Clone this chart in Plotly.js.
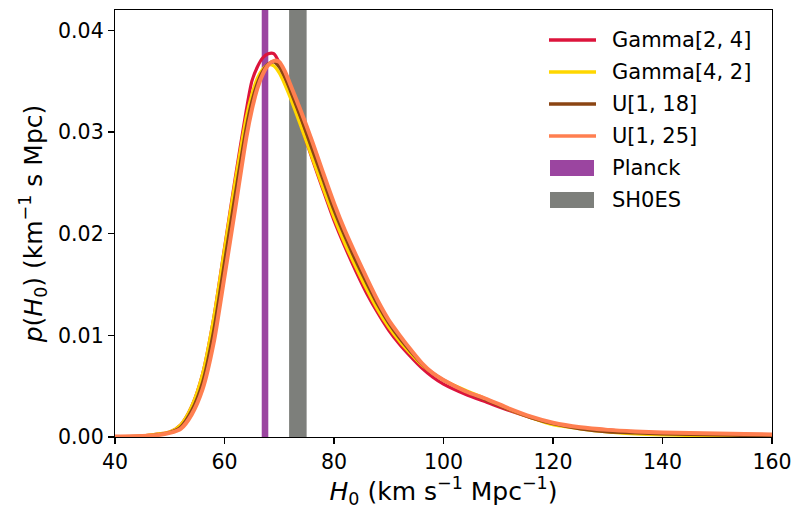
<!DOCTYPE html>
<html>
<head>
<meta charset="utf-8">
<script src="https://cdn.plot.ly/plotly-3.0.1.min.js"></script>
<style>html,body{margin:0;padding:0;background:#fff;}#chart{width:796px;height:509px;}</style>
</head>
<body>
<div id="chart"></div>
<script>
// H0 grid (km s^-1 Mpc^-1)
const h0 = [40,45,48,50,52,54,56,58,60,62,64,65,66,67,68,69,70,71,72,74,76,78,80,82,84,86,88,90,92,94,96,98,100,104,108,112,116,120,125,130,135,140,145,150,155,160];

const gamma24 = [0.00005,0.0001,0.0003,0.0005,0.0012,0.0030,0.0062,0.0116,0.0186,0.0256,0.0322,0.0350,0.0364,0.0373,0.0377,0.0377,0.0368,0.0354,0.0338,0.0306,0.0274,0.0243,0.0213,0.0187,0.0163,0.0141,0.0122,0.0105,0.0091,0.0079,0.0068,0.0059,0.0052,0.0042,0.0034,0.0026,0.0019,0.0013,0.0009,0.0007,0.0005,0.0004,0.00035,0.0003,0.00025,0.0002];

const gamma42 = [0.00005,0.0001,0.0003,0.0005,0.0012,0.0030,0.0062,0.0116,0.0185,0.0253,0.0315,0.0337,0.0353,0.0362,0.0366,0.0365,0.0358,0.0347,0.0334,0.0305,0.0275,0.0245,0.0216,0.0190,0.0167,0.0145,0.0125,0.0108,0.0094,0.0082,0.0071,0.0063,0.0056,0.0046,0.0037,0.0027,0.0019,0.0012,0.0008,0.0005,0.0003,0.0002,0.00015,0.0001,0.0001,0.00005];

const u118 = [0.00005,0.0001,0.00025,0.00045,0.0010,0.0026,0.0054,0.0104,0.0172,0.0240,0.0305,0.0330,0.0348,0.0360,0.0367,0.0369,0.0364,0.0354,0.0341,0.0313,0.0283,0.0253,0.0223,0.0197,0.0173,0.0151,0.0130,0.0112,0.0097,0.0084,0.0072,0.0063,0.0056,0.0045,0.0036,0.0027,0.0019,0.0013,0.0008,0.0005,0.0004,0.0003,0.00025,0.0002,0.00015,0.0001];

const u125 = [0.00005,0.0001,0.0002,0.0004,0.0008,0.0022,0.0047,0.0092,0.0158,0.0226,0.0295,0.0322,0.0343,0.0357,0.0366,0.0370,0.0369,0.0360,0.0347,0.0320,0.0291,0.0260,0.0230,0.0203,0.0179,0.0156,0.0134,0.0115,0.0100,0.0086,0.0073,0.0063,0.0056,0.0045,0.0037,0.0028,0.0020,0.0014,0.00095,0.0007,0.00055,0.00045,0.0004,0.00035,0.0003,0.00025];

const seriesNames = ["Gamma[2, 4]","Gamma[4, 2]","U[1, 18]","U[1, 25]"];
const seriesColors = ["#DC143C","#FFD700","#8B4513","#FF7F50"];
const seriesWidths = [3.2,3.2,3.2,4];

// Measurement bands [low, high]
const planckBand = [66.8, 68.0];
const shoesBand = [71.8, 75.0];
const bandNames = ["Planck","SH0ES"];
const bandColors = ["#9B45A0","#7D7F7B"];
const yTop = 0.042;

const yTicks = [0, 0.01, 0.02, 0.03, 0.04];
const yTickText = ["0.00","0.01","0.02","0.03","0.04"];
const xTicks = [40, 60, 80, 100, 120, 140, 160];

const FONT = "DejaVu Sans, sans-serif";
const TICK_FS = 20.5;
const LEG_FS = 21;
const TITLE_FS = 25;

// plot-area geometry (px) used to place a matplotlib-style legend
const W = 796, H = 509;
const M = {l: 115, r: 24, t: 10, b: 72};
const PW = W - M.l - M.r, PH = H - M.t - M.b;
const px2x = p => (p - M.l) / PW;
const px2y = p => (H - M.b - p) / PH;

const traces = [];
[planckBand, shoesBand].forEach((b, i) => {
  traces.push({
    x: [b[0], b[1], b[1], b[0], b[0]],
    y: [0, 0, yTop, yTop, 0],
    type: "scatter", mode: "lines", fill: "toself",
    fillcolor: bandColors[i], line: {width: 0, color: bandColors[i]},
    name: bandNames[i], showlegend: false, hoverinfo: "skip"
  });
});
[gamma24, gamma42, u118, u125].forEach((ys, i) => {
  traces.push({
    x: h0, y: ys, type: "scatter", mode: "lines",
    line: {color: seriesColors[i], width: seriesWidths[i], shape: "spline", smoothing: 0.7},
    name: seriesNames[i], showlegend: false
  });
});

// legend (drawn like matplotlib: long handles, patch rectangles)
const shapes = [], annotations = [];
const legNames = seriesNames.concat(bandNames);
const rowTop = 40, rowStep = 32;
legNames.forEach((nm, i) => {
  const yc = rowTop + i * rowStep;
  if (i < seriesNames.length) {
    shapes.push({type: "line", xref: "paper", yref: "paper",
      x0: px2x(549), x1: px2x(596), y0: px2y(yc), y1: px2y(yc),
      line: {color: seriesColors[i], width: 3.3}});
  } else {
    const j = i - seriesNames.length;
    shapes.push({type: "rect", xref: "paper", yref: "paper",
      x0: px2x(550), x1: px2x(594), y0: px2y(yc - 8), y1: px2y(yc + 8),
      fillcolor: bandColors[j], line: {width: 0}});
  }
  annotations.push({text: nm, xref: "paper", yref: "paper",
    x: px2x(610), y: px2y(yc), xanchor: "left", yanchor: "middle",
    showarrow: false, font: {family: FONT, size: LEG_FS, color: "#000"}});
});

const layout = {
  width: W, height: H,
  margin: M,
  paper_bgcolor: "#fff", plot_bgcolor: "#fff",
  font: {family: FONT, size: TICK_FS, color: "#000"},
  showlegend: false,
  shapes: shapes, annotations: annotations,
  xaxis: {
    range: [40, 160], tickvals: xTicks, ticktext: xTicks.map(String),
    showgrid: false, zeroline: false,
    showline: true, mirror: true, linecolor: "#000", linewidth: 1.2,
    ticks: "outside", ticklen: 6, tickwidth: 1.2, tickcolor: "#000",
    tickfont: {family: FONT, size: TICK_FS, color: "#000"},
    title: {text: "<i>H</i><sub>0</sub> (km s<sup>−1</sup> Mpc<sup>−1</sup>)", font: {family: FONT, size: TITLE_FS, color: "#000"}, standoff: 4}
  },
  yaxis: {
    range: [0, yTop], tickvals: yTicks, ticktext: yTickText,
    showgrid: false, zeroline: false,
    showline: true, mirror: true, linecolor: "#000", linewidth: 1.2,
    ticks: "outside", ticklen: 6, tickwidth: 1.2, tickcolor: "#000",
    tickfont: {family: FONT, size: TICK_FS, color: "#000"},
    title: {text: "<i>p</i>(<i>H</i><sub>0</sub>) (km<sup>−1</sup> s Mpc)", font: {family: FONT, size: TITLE_FS, color: "#000"}, standoff: 8}
  }
};

Plotly.newPlot("chart", traces, layout, {displayModeBar: false, staticPlot: true});
</script>
</body>
</html>
